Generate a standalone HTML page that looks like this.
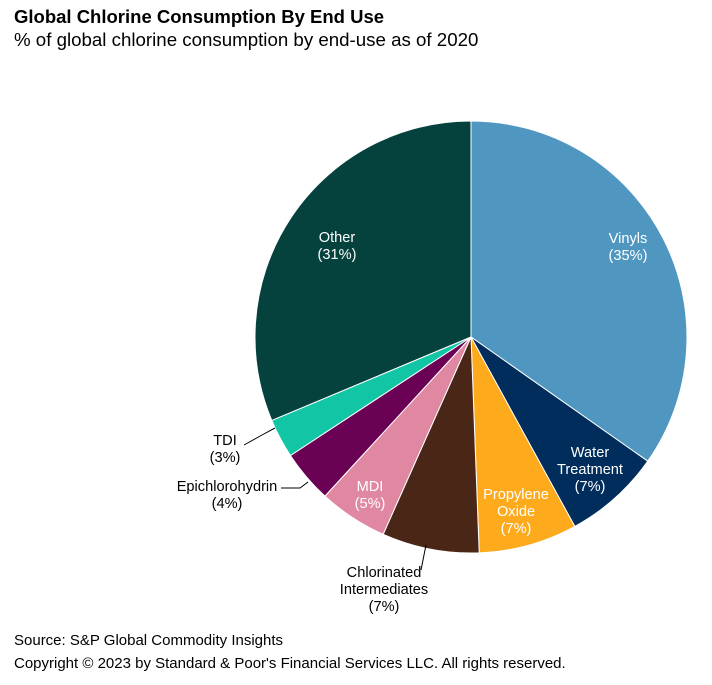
<!DOCTYPE html>
<html><head><meta charset="utf-8"><style>
body{margin:0;background:#fff;font-family:"Liberation Sans",Arial,sans-serif;}
#wrap{position:relative;width:712px;height:685px;overflow:hidden;}
.t{position:absolute;white-space:nowrap;color:#000;}
</style></head><body>
<div id="wrap">
<div class="t" style="left:14px;top:6px;font-size:18.5px;font-weight:bold">Global Chlorine Consumption By End Use</div>
<div class="t" style="left:14px;top:29px;font-size:18.7px">% of global chlorine consumption by end-use as of 2020</div>
<svg id="pie" width="712" height="685" style="position:absolute;left:0;top:0"></svg>
<div class="t" style="left:14px;top:632px;font-size:15px">Source: S&amp;P Global Commodity Insights</div>
<div class="t" style="left:14px;top:655px;font-size:15px">Copyright © 2023 by Standard &amp; Poor's Financial Services LLC. All rights reserved.</div>
</div>
<script>
const categories=["Vinyls","Water Treatment","Propylene Oxide","Chlorinated Intermediates","MDI","Epichlorohydrin","TDI","Other"];
const values=[34.4,7.2,7.3,7.2,5.1,3.9,2.9,31];
const labels=["(35%)","(7%)","(7%)","(7%)","(5%)","(4%)","(3%)","(31%)"];
const colors=["#4f97c0","#002d5b","#fdaa1d","#4a2617","#e087a1","#6a0154","#12c5a5","#05423e"];
const NS="http://www.w3.org/2000/svg";
const svg=document.getElementById('pie');
const cx=471,cy=337,R=216;
const total=values.reduce((a,b)=>a+b,0);
function pt(a,r){return [cx+r*Math.sin(a),cy-r*Math.cos(a)];}
let a0=0;
values.forEach((v,i)=>{
  const a1=a0+v/total*2*Math.PI;
  const p0=pt(a0,R),p1=pt(a1,R);
  const large=(a1-a0)>Math.PI?1:0;
  const p=document.createElementNS(NS,'path');
  p.setAttribute('d',`M${cx},${cy}L${p0[0]},${p0[1]}A${R},${R} 0 ${large} 1 ${p1[0]},${p1[1]}Z`);
  p.setAttribute('fill',colors[i]);
  p.setAttribute('stroke','#fff');
  p.setAttribute('stroke-width','1');
  
  
  svg.appendChild(p);
  a0=a1;
});
function txt(lines,x,y,color,anchor,name){
  const t=document.createElementNS(NS,'text');
  t.setAttribute('x',x);t.setAttribute('y',y);
  t.setAttribute('fill',color);t.setAttribute('text-anchor',anchor||'middle');
  t.setAttribute('font-size','14.6');t.setAttribute('font-family','"Liberation Sans",Arial,sans-serif');
  
  
  lines.forEach((l,k)=>{const s=document.createElementNS(NS,'tspan');s.setAttribute('x',x);s.setAttribute('dy',k?17:0);s.textContent=l;t.appendChild(s);});
  svg.appendChild(t);
}
function line(pts,name){
  const l=document.createElementNS(NS,'polyline');
  l.setAttribute('points',pts);l.setAttribute('fill','none');l.setAttribute('stroke','#000');l.setAttribute('stroke-width','1');
  
  
  svg.appendChild(l);
}
txt(["Vinyls",labels[0]],628,243,'#fff','middle','label-vinyls');
txt(["Water","Treatment",labels[1]],590,457,'#fff','middle','label-water-treatment');
txt(["Propylene","Oxide",labels[2]],516,499,'#fff','middle','label-propylene-oxide');
txt(["Chlorinated","Intermediates",labels[3]],384,577,'#000','middle','label-chlorinated-intermediates');
txt(["MDI",labels[4]],370,491,'#fff','middle','label-mdi');
txt(["Epichlorohydrin",labels[5]],227,491,'#000','middle','label-epichlorohydrin');
txt(["TDI",labels[6]],225,445,'#000','middle','label-tdi');
txt(["Other",labels[7]],337,242,'#fff','middle','label-other');
line("426,545 421,570","leader-chlorinated");
line("281,488 300,488 308,482","leader-epichlorohydrin");
line("244,445 262,435 275,428","leader-tdi");
</script>
</body></html>
